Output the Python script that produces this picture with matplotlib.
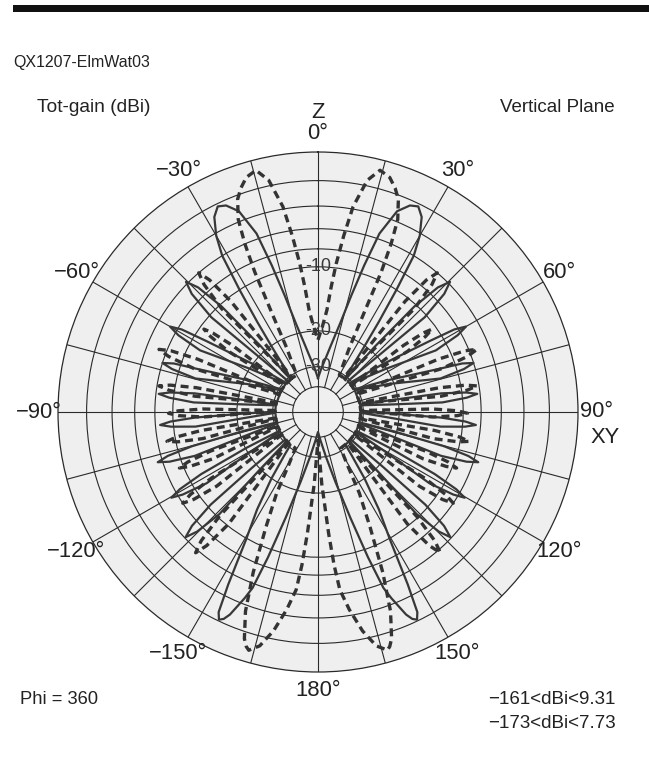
import numpy as np
import matplotlib
matplotlib.use("Agg")
import matplotlib.pyplot as plt
from matplotlib.patches import Rectangle

plt.rcParams['font.family'] = ['Liberation Sans', 'DejaVu Sans']

# pattern is mirror symmetric about Z, values below are the right half (0..180 deg)
# solid trace: angle from Z (deg, clockwise) and gain in dB below max
solid_deg = np.array([
    0, 4, 8, 11, 14, 16, 17.5, 19, 21.5, 24, 26, 28, 30, 31.5, 32.7, 34, 35.5, 37.5, 40,
    41, 42.4, 43.9, 45.4, 46.9, 48.4, 47.2, 44,
    47.5, 53.5, 57.6, 58.8, 60, 61.2, 62.4, 57.5, 49,
    58, 65.5, 70.3, 71.4, 72.5, 73.6, 74.7, 68.5, 59.5,
    80, 80.8, 81.4, 82.5, 83.5, 84.5, 85.6, 84.2, 81,
    89.5, 91.2, 92.6, 93.7, 94.7, 95.7, 96.8, 94.7, 91,
    104, 104.3, 105.2, 106.3, 107.4, 108.5, 109.6, 108.2, 105.5,
    116, 116.6, 118, 119.2, 120.3, 121.4, 122.6, 120.6, 117.5,
    130, 130.2, 130.8, 132.1, 133.4, 134.7, 136, 134.8, 133,
    140, 142, 145, 148, 150.6, 152.5, 153.6, 154.5, 155.5, 156.5, 158.5, 159.6, 161, 163,
    166, 170, 175, 180])
solid_db = np.array([
    -35, -31, -27, -23, -18, -13, -9, -5.5, -3.2, -2.4, -2.2, -2.8, -4.2, -6, -10, -15, -21, -28, -31,
    -18.8, -10.3, -7, -5.8, -7, -10.3, -18.8, -31,
    -31, -20.2, -11.5, -8.4, -7.2, -8.4, -11.5, -20.2, -31,
    -31, -21, -12.3, -9.2, -8, -9.2, -12.3, -21, -31,
    -31, -21.3, -12.6, -9.5, -8.3, -9.5, -12.6, -21.3, -31,
    -31, -21.5, -12.8, -9.7, -8.5, -9.7, -12.8, -21.5, -31,
    -31, -20.5, -11.8, -8.7, -7.5, -8.7, -11.8, -20.5, -31,
    -31, -20.3, -11.6, -8.5, -7.3, -8.5, -11.6, -20.3, -31,
    -31, -19.1, -10.4, -7.3, -6.1, -7.3, -10.4, -19.1, -31,
    -31, -27, -20, -14, -9.8, -5, -2.6, -2.1, -2.3, -2.8, -4.5, -5.6, -9, -14.7,
    -22, -30, -38, -44])

# dashed trace
dash_deg = np.array([
    0, 3, 5, 6, 7, 8.3, 9.7, 12, 14.4, 17, 19, 20.7, 22.5, 23.5, 24.3, 24.6, 25, 26, 30,
    37, 38.2, 39.4, 40.6, 41.8, 43, 38.5,
    51, 52.1, 53.1, 54, 54.9, 55.9, 52.5,
    64, 66.3, 67.4, 68.5, 69.6, 70.7, 65.5,
    77.5, 78.7, 79.7, 80.7, 81.7, 82.7, 78.5,
    88, 88.5, 89.5, 90.5, 91.5, 92.5, 89,
    98, 99, 100, 101, 102, 103, 99,
    109, 110, 111, 112, 113, 114, 110,
    121, 121.8, 122.9, 124, 125.1, 126.2, 122,
    135, 136.6, 137.8, 139, 140.2, 141.4, 136.5,
    148, 151, 153, 155.7, 158, 160, 162, 163, 163.8, 164.6, 166, 168.5, 171, 173, 174, 175,
    177, 180])
dash_db = np.array([
    -22, -19, -16, -12.5, -9.5, -6.5, -3.8, -1.6, -0.7, -1, -1.6, -2.3, -3.8, -6, -9, -12, -15, -22, -31,
    -31, -10.5, -7.2, -6, -7.2, -10.5, -31,
    -31, -15, -11.7, -10.5, -11.7, -15, -31,
    -31, -11.7, -8.4, -7.2, -8.4, -11.7, -31,
    -31, -12.7, -9.4, -8.2, -9.4, -12.7, -31,
    -31, -14, -10.7, -9.5, -10.7, -14, -31,
    -31, -13.5, -10.2, -9, -10.2, -13.5, -31,
    -31, -14, -10.7, -9.5, -10.7, -14, -31,
    -31, -12.5, -9.2, -8, -9.2, -12.5, -31,
    -31, -10.2, -6.9, -5.7, -6.9, -10.2, -31,
    -31, -25, -18, -12.3, -7, -3.5, -1.5, -1, -0.8, -1, -1.3, -2.6, -4.5, -6.4, -9, -13,
    -22, -38])

ring_db = [-40, -30, -20, -10, -8, -6, -4, -2]
ring_labels = ['-30', '-20', '-10']
theta_ticks = [0, 30, 60, 90, 120, 150, 180, 210, 240, 270, 300, 330]
theta_labels = ['0°', '30°', '60°', '90°', '120°', '150°', '180°',
                '−150°', '−120°', '−90°', '−60°', '−30°']


def arrl_fwd(db):
    # ARRL log scale: radius shrinks by 0.89 every 2 dB
    return 0.89 ** (-np.asarray(db, dtype=float) / 2)


def arrl_inv(r):
    r = np.asarray(r, dtype=float)
    with np.errstate(divide='ignore', invalid='ignore'):
        return -2 * np.log(r) / np.log(0.89)


def full_circle(deg, db):
    ang = np.concatenate([deg, 360 - deg[::-1]])
    val = np.concatenate([db, db[::-1]])
    return np.deg2rad(ang), val


fig = plt.figure(figsize=(6.49, 7.79), dpi=100)
W, H = 649, 779
cx, cy, R = 318, 412, 260
ax = fig.add_axes([(cx - R) / W, (H - cy - R) / H, 2 * R / W, 2 * R / H], projection='polar')
ax.set_theta_zero_location('N')
ax.set_theta_direction(-1)
ax.set_rscale('function', functions=(arrl_fwd, arrl_inv))
ax.set_rlim(-400, 0)
ax.set_facecolor('#efefef')

grid_col = '#2a2a2a'
ax.set_rgrids(ring_db, labels=[''] * len(ring_db))
ax.yaxis.grid(True, color=grid_col, lw=0.8)
ax.set_thetagrids(theta_ticks, theta_labels, fontsize=15.8, color='#222222')
ax.xaxis.grid(False)
ax.tick_params(axis='x', pad=3)
ax.spines['polar'].set_color(grid_col)
ax.spines['polar'].set_linewidth(0.9)

# spokes every 15 deg from the -40 ring, the axes cross the centre
for a in range(0, 360, 15):
    start = -400 if a % 90 == 0 else -40
    ax.plot([np.deg2rad(a)] * 2, [start, 0], color=grid_col, lw=0.8, zorder=2)

for lab, d in zip(ring_labels, [-30, -20, -10]):
    ax.text(0, d, lab, ha='center', va='center', fontsize=13, color='#3a3a3a', zorder=5)

th, g = full_circle(solid_deg, solid_db)
ax.plot(th, g, color='#383838', lw=1.6, zorder=3)
th, g = full_circle(dash_deg, dash_db)
ax.plot(th, g, color='#333333', lw=2.4, dashes=(2.4, 1.5), zorder=4)

# header / footer text
fig.add_artist(Rectangle((13 / W, 1 - 12 / H), 1, 7 / H, transform=fig.transFigure,
                         color='#111111', lw=0))
fig.text(13 / W, 1 - 63 / H, 'QX1207-ElmWat03', fontsize=11.5, va='center', color='#222222')
fig.text(37 / W, 1 - 107 / H, 'Tot-gain (dBi)', fontsize=13.8, va='center', color='#222222')
fig.text(615 / W, 1 - 107 / H, 'Vertical Plane', fontsize=13.5, va='center', ha='right',
         color='#222222')
fig.text(318 / W, 1 - 113 / H, 'Z', fontsize=15.8, va='center', ha='center', color='#222222')
fig.text(605 / W, 1 - 437 / H, 'XY', fontsize=15.8, va='center', ha='center', color='#222222')
fig.text(20 / W, 1 - 700 / H, 'Phi = 360', fontsize=13.2, va='center', color='#222222')
fig.text(488 / W, 1 - 700 / H, '−161<dBi<9.31', fontsize=13.5, va='center', color='#222222')
fig.text(488 / W, 1 - 723 / H, '−173<dBi<7.73', fontsize=13.5, va='center', color='#222222')

fig.savefig('out.png', dpi=100, facecolor='white')
